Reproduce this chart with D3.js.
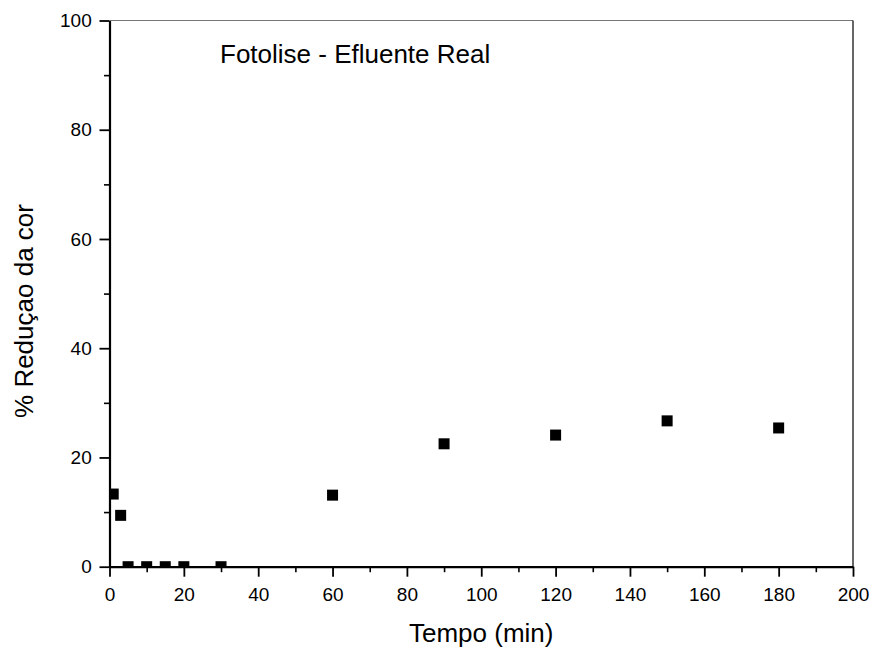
<!DOCTYPE html>
<html>
<head>
<meta charset="utf-8">
<script src="https://cdn.jsdelivr.net/npm/d3@7"></script>
<style>
  body { margin: 0; background: #fff; }
  svg text { font-family: "Liberation Sans", Arial, sans-serif; fill: #000; }
  .axis path, .axis line { stroke: #000; }
</style>
</head>
<body>
<div class="graph"></div>
<script>
// data
var tempo = [1, 3, 5, 10, 15, 20, 30, 60, 90, 120, 150, 180];
var reducao = [13.3, 9.4, 0, 0, 0, 0, 0, 13.1, 22.5, 24.1, 26.7, 25.4];
var xTicks = [0, 20, 40, 60, 80, 100, 120, 140, 160, 180, 200];
var yTicks = [0, 20, 40, 60, 80, 100];
var xMinor = [10, 30, 50, 70, 90, 110, 130, 150, 170, 190];
var yMinor = [10, 30, 50, 70, 90];

var width = 876, height = 652;
var margin = {top: 20.5, right: 23, bottom: 85.3, left: 109.5};
var w = width - margin.left - margin.right,
    h = height - margin.top - margin.bottom;

var svg = d3.select(".graph").append("svg")
    .attr("width", width)
    .attr("height", height);

var g = svg.append("g")
    .attr("transform", "translate(" + margin.left + "," + margin.top + ")");

var x = d3.scaleLinear().domain([0, 200]).range([0, w]);
var y = d3.scaleLinear().domain([0, 100]).range([h, 0]);

// clip so markers at the edges are cut by the axes, like the original
g.append("clipPath").attr("id", "clip")
  .append("rect").attr("width", w).attr("height", h);

// frame: grey top, black right
g.append("line").attr("x1", 0).attr("x2", w).attr("y1", 0).attr("y2", 0)
    .attr("stroke", "#777").attr("stroke-width", 1);
g.append("line").attr("x1", w).attr("x2", w).attr("y1", 0).attr("y2", h)
    .attr("stroke", "#000").attr("stroke-width", 1.2);

// points
g.append("g").attr("clip-path", "url(#clip)")
  .selectAll("rect.pt")
  .data(tempo)
  .enter().append("rect")
    .attr("class", "pt")
    .attr("x", function(d) { return x(d) - 5.5; })
    .attr("y", function(d, i) { return y(reducao[i]) - 5.5; })
    .attr("width", 11)
    .attr("height", 11)
    .attr("fill", "#000");

// minor ticks
g.append("g").attr("class", "axis")
    .attr("transform", "translate(0," + h + ")")
    .call(d3.axisBottom(x).tickValues(xMinor).tickSize(5.5).tickFormat(""))
    .call(function(s) { s.select(".domain").remove(); })
    .selectAll("line").attr("stroke-width", 1.6);
g.append("g").attr("class", "axis")
    .call(d3.axisLeft(y).tickValues(yMinor).tickSize(5.5).tickFormat(""))
    .call(function(s) { s.select(".domain").remove(); })
    .selectAll("line").attr("stroke-width", 1.6);

// major axes
var xAxis = g.append("g").attr("class", "axis")
    .attr("transform", "translate(0," + h + ")")
    .call(d3.axisBottom(x).tickValues(xTicks).tickSize(10).tickSizeOuter(0).tickPadding(11.3));
var yAxis = g.append("g").attr("class", "axis")
    .call(d3.axisLeft(y).tickValues(yTicks).tickSize(10).tickSizeOuter(0).tickPadding(7.8));

[xAxis, yAxis].forEach(function(a) {
  a.select(".domain").attr("stroke-width", 2.2);
  a.selectAll(".tick line").attr("stroke-width", 1.8);
  a.selectAll(".tick text").style("font-size", "19px");
});

// titles
svg.append("text")
    .attr("x", margin.left + w / 2)
    .attr("y", 642)
    .attr("text-anchor", "middle")
    .style("font-size", "26px")
    .text("Tempo (min)");

svg.append("text")
    .attr("transform", "translate(33,311) rotate(-90)")
    .attr("text-anchor", "middle")
    .style("font-size", "26px")
    .text("% Reduçao da cor");

svg.append("text")
    .attr("x", 220)
    .attr("y", 62.5)
    .style("font-size", "26px")
    .text("Fotolise - Efluente Real");
</script>
</body>
</html>
